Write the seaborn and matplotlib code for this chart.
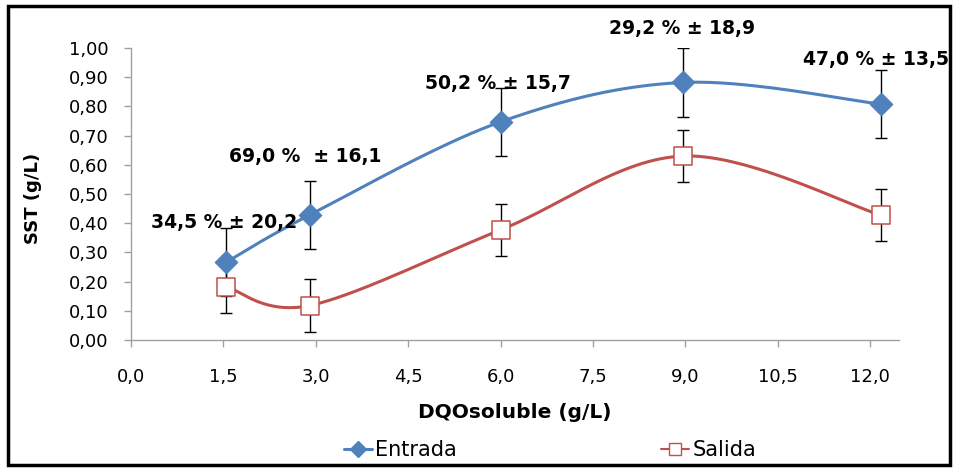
import numpy as np
import matplotlib
matplotlib.use("Agg")
import matplotlib.pyplot as plt
import seaborn as sns
from matplotlib.lines import Line2D
from matplotlib.patches import Rectangle

# ---- data ----
x_vals = [1.55, 2.9, 6.0, 8.97, 12.17]
entrada = [0.267, 0.428, 0.747, 0.882, 0.808]
entrada_err = [0.117, 0.118, 0.117, 0.118, 0.117]
salida = [0.182, 0.118, 0.377, 0.630, 0.428]
salida_err = [0.090, 0.092, 0.090, 0.090, 0.090]
labels = ["34,5 % ± 20,2", "69,0 %  ± 16,1", "50,2 % ± 15,7", "29,2 % ± 18,9", "47,0 % ± 13,5"]
label_x = [1.51, 2.83, 5.96, 8.94, 12.09]
label_y = [0.404, 0.627, 0.880, 1.068, 0.959]
x_ticks = [0.0, 1.5, 3.0, 4.5, 6.0, 7.5, 9.0, 10.5, 12.0]
y_ticks = [0.0, 0.1, 0.2, 0.3, 0.4, 0.5, 0.6, 0.7, 0.8, 0.9, 1.0]

BLUE = "#4F81BD"
RED = "#C0504D"


def smooth(xs, ys, n=40):
    """Excel-like smoothed line (Catmull-Rom as cubic Bezier)."""
    P = np.column_stack([xs, ys]).astype(float)
    out = []
    for i in range(len(P) - 1):
        p0 = P[i - 1] if i > 0 else P[i]
        p1 = P[i]
        p2 = P[i + 1]
        p3 = P[i + 2] if i + 2 < len(P) else P[i + 1]
        c1 = p1 + (p2 - p0) / 6.0
        c2 = p2 - (p3 - p1) / 6.0
        t = np.linspace(0, 1, n)[:, None]
        seg = ((1 - t) ** 3) * p1 + 3 * ((1 - t) ** 2) * t * c1 + 3 * (1 - t) * t ** 2 * c2 + t ** 3 * p2
        out.append(seg if i == 0 else seg[1:])
    S = np.vstack(out)
    return S[:, 0], S[:, 1]


sns.set_theme(style="white")
plt.rcParams["font.family"] = ["DejaVu Sans"]
plt.rcParams["text.color"] = "black"
plt.rcParams["axes.labelcolor"] = "black"
plt.rcParams["xtick.color"] = "black"
plt.rcParams["ytick.color"] = "black"

fig = plt.figure(figsize=(9.55, 4.68), dpi=100)
ax = fig.add_axes([131 / 955, 1 - 340 / 468, (899 - 131) / 955, (340 - 48) / 468])

# smoothed lines
ex, ey = smooth(x_vals, entrada)
sx, sy = smooth(x_vals, salida)
sns.lineplot(x=ex, y=ey, sort=False, estimator=None, color=BLUE, lw=2.2, ax=ax, zorder=2)
sns.lineplot(x=sx, y=sy, sort=False, estimator=None, color=RED, lw=2.2, ax=ax, zorder=2)

# error bars
ax.errorbar(x_vals, entrada, yerr=entrada_err, fmt="none", ecolor="black", elinewidth=1, capsize=4, capthick=1, zorder=1)
ax.errorbar(x_vals, salida, yerr=salida_err, fmt="none", ecolor="black", elinewidth=1, capsize=4, capthick=1, zorder=1)

# markers
sns.scatterplot(x=x_vals, y=entrada, marker="D", s=130, color=BLUE, edgecolor=BLUE, ax=ax, zorder=4)
sns.scatterplot(x=x_vals, y=salida, marker="s", s=175, color="white", edgecolor=RED, linewidth=1.1, ax=ax, zorder=4)

for lx, ly, t in zip(label_x, label_y, labels):
    ax.text(lx, ly, t, ha="center", va="center", fontsize=13.5, fontweight="bold", color="black",
            clip_on=False, zorder=5)

ax.set_xlim(0, 12.47)
ax.set_ylim(0, 1.0)
ax.set_xticks(x_ticks)
ax.set_xticklabels([f"{v:.1f}".replace(".", ",") for v in x_ticks], fontsize=13, color="black")
ax.set_yticks(y_ticks)
ax.set_yticklabels([f"{v:.2f}".replace(".", ",") for v in y_ticks], fontsize=13, color="black")
ax.tick_params(axis="both", which="both", direction="out", length=5, width=1, color="#A0A0A0",
               labelcolor="black", bottom=True, left=True)
ax.tick_params(axis="x", pad=15)
ax.tick_params(axis="y", pad=11)
for side in ["top", "right"]:
    ax.spines[side].set_visible(False)
for side in ["left", "bottom"]:
    ax.spines[side].set_color("#A0A0A0")
    ax.spines[side].set_linewidth(1)
ax.grid(False)

fig.text(515 / 955, 1 - 412 / 468, "DQOsoluble (g/L)", ha="center", va="center", fontsize=14.5,
         fontweight="bold", color="black")
fig.text(33 / 955, 1 - 198 / 468, "SST (g/L)", ha="center", va="center", rotation=90, fontsize=13,
         fontweight="bold", color="black")

handles = [
    Line2D([0], [0], color=BLUE, lw=2.2, marker="D", markersize=8, markerfacecolor=BLUE, markeredgecolor=BLUE),
    Line2D([0], [0], color=RED, lw=1.5, marker="s", markersize=9, markerfacecolor="white", markeredgecolor=RED),
]
leg = fig.legend(handles, ["Entrada", "Salida"], loc="center", bbox_to_anchor=(0.576, 1 - 450 / 468), ncol=2,
                 frameon=False, fontsize=15, handlelength=1.35, handletextpad=0.15, columnspacing=9.8,
                 borderpad=0, borderaxespad=0, labelcolor="black")

fig.add_artist(Rectangle((8 / 955, 3 / 468), 942 / 955, 459 / 468, transform=fig.transFigure,
                         fill=False, edgecolor="black", lw=2.5))

fig.savefig("out.png", dpi=100)
